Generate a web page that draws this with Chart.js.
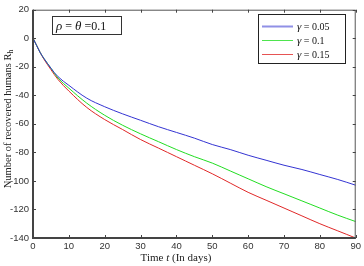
<!DOCTYPE html>
<html>
<head>
<meta charset="utf-8">
<script src="https://cdn.jsdelivr.net/npm/chart.js@4/dist/chart.umd.min.js"></script>
<style>
html, body { margin: 0; padding: 0; background: #fff; }
#wrap { width: 364px; height: 266px; }
</style>
</head>
<body>
<div id="wrap"><canvas id="recoveredChart" width="364" height="266"></canvas></div>
<script>
// Données
const days = [0, 1, 2, 3, 5, 7, 10, 15, 20, 25, 30, 35, 40, 45, 50, 55, 60, 65, 70, 75, 80, 85, 90];
const gamma005 = [0, -5, -10, -14, -21, -27, -33, -42, -48, -53, -57.5, -62, -66, -70, -74.5, -78, -82, -85.5, -89, -92, -95.5, -99, -103];
const gamma01 = [0, -5, -10, -14, -21, -28, -35, -45.5, -54, -61, -67, -72.5, -78, -83, -87.5, -93, -98.5, -104, -109, -114, -119, -124, -128.5];
const gamma015 = [0, -5, -10, -14.5, -22, -29, -37, -48.5, -57, -64, -71, -77, -83, -89, -95, -101.5, -108, -113.5, -119, -124.5, -130, -135, -140];
const gammaLabels = ['0.05', '0.1', '0.15'];
const xTickValues = [0, 10, 20, 30, 40, 50, 60, 70, 80, 90];
const yTickValues = [20, 0, -20, -40, -60, -80, -100, -120, -140];

const lineColors = ['#3434d2', '#22dd22', '#e02828'];
const serif = '"Liberation Serif", "DejaVu Serif", serif';
const sans = '"Liberation Sans", Arial, sans-serif';

function toPoints(values) {
    return values.map((v, i) => ({ x: days[i], y: v }));
}

// Cadre, graduations intérieures, titres, légende et annotation
const matlabFrame = {
    id: 'matlabFrame',
    afterDraw(chart) {
        const ctx = chart.ctx;
        const { left, right, top, bottom } = chart.chartArea;
        const xs = chart.scales.x;
        const ys = chart.scales.y;
        ctx.save();

        // cadre
        ctx.strokeStyle = '#555';
        ctx.lineWidth = 1;
        ctx.strokeRect(left + 0.5, top + 0.5, right - left - 1, bottom - top - 1);
        ctx.strokeStyle = '#444';
        ctx.lineWidth = 2;
        ctx.beginPath();
        ctx.moveTo(left, top);
        ctx.lineTo(left, bottom);
        ctx.lineTo(right, bottom);
        ctx.stroke();

        // graduations vers l'intérieur
        ctx.lineWidth = 1;
        ctx.strokeStyle = '#444';
        ctx.beginPath();
        xTickValues.forEach(v => {
            const px = Math.round(xs.getPixelForValue(v)) + 0.5;
            ctx.moveTo(px, bottom); ctx.lineTo(px, bottom - 3);
            ctx.moveTo(px, top); ctx.lineTo(px, top + 3);
        });
        yTickValues.forEach(v => {
            const py = Math.round(ys.getPixelForValue(v)) + 0.5;
            ctx.moveTo(left, py); ctx.lineTo(left + 3, py);
            ctx.moveTo(right, py); ctx.lineTo(right - 3, py);
        });
        ctx.stroke();

        // titre axe x
        ctx.fillStyle = '#222';
        ctx.textBaseline = 'alphabetic';
        const parts = [
            { t: 'Time ', f: '11px ' + serif },
            { t: 't', f: 'italic 11px ' + serif },
            { t: ' (In days)', f: '11px ' + serif }
        ];
        let total = 0;
        parts.forEach(p => { ctx.font = p.f; total += ctx.measureText(p.t).width; });
        let cx = 176 - total / 2;
        parts.forEach(p => {
            ctx.font = p.f;
            ctx.textAlign = 'left';
            ctx.fillText(p.t, cx, 261);
            cx += ctx.measureText(p.t).width;
        });

        // titre axe y
        ctx.save();
        ctx.translate(11, 119);
        ctx.rotate(-Math.PI / 2);
        ctx.font = '10.5px ' + serif;
        const main = 'Number of recovered humans R';
        const wMain = ctx.measureText(main).width;
        ctx.font = '7.5px ' + serif;
        const wSub = ctx.measureText('h').width;
        const start = -(wMain + wSub) / 2;
        ctx.font = '10.5px ' + serif;
        ctx.textAlign = 'left';
        ctx.fillText(main, start, 0);
        ctx.font = '7.5px ' + serif;
        ctx.fillText('h', start + wMain, 2);
        ctx.restore();

        // annotation
        ctx.fillStyle = '#fff';
        ctx.fillRect(52, 16, 69, 18);
        ctx.strokeStyle = '#333';
        ctx.lineWidth = 1;
        ctx.strokeRect(52.5, 16.5, 69, 18);
        ctx.fillStyle = '#111';
        const ann = [
            { t: 'ρ', f: 'italic 13px ' + serif },
            { t: ' = ', f: '12px ' + serif },
            { t: 'θ', f: 'italic 13px ' + serif },
            { t: ' =0.1', f: '12px ' + serif }
        ];
        let ax = 56;
        ann.forEach(p => {
            ctx.font = p.f;
            ctx.fillText(p.t, ax, 29.5);
            ax += ctx.measureText(p.t).width;
        });

        // légende
        ctx.fillStyle = '#fff';
        ctx.fillRect(258, 14, 87, 49);
        ctx.strokeStyle = '#222';
        ctx.strokeRect(258.5, 14.5, 87, 49);
        const rows = [26, 40, 54];
        chart.data.datasets.forEach((ds, i) => {
            const y = rows[i];
            ctx.strokeStyle = ds.borderColor;
            ctx.lineWidth = i === 0 ? 2 : 1;
            ctx.globalAlpha = i === 0 ? 0.55 : 0.8;
            ctx.beginPath();
            ctx.moveTo(262, y + 0.5);
            ctx.lineTo(293, y + 0.5);
            ctx.stroke();
            ctx.globalAlpha = 1;
            ctx.fillStyle = '#111';
            ctx.font = 'italic 11px ' + serif;
            ctx.fillText('γ', 297, y + 4);
            const gw = ctx.measureText('γ').width;
            ctx.font = '10px ' + serif;
            ctx.fillText(' = ' + gammaLabels[i], 297 + gw, y + 4);
        });

        ctx.restore();
    }
};

function buildDataset(label, values, color) {
    return {
        label: label,
        data: toPoints(values),
        borderColor: color,
        backgroundColor: color,
        borderWidth: 1,
        pointRadius: 0,
        tension: 0.35,
        fill: false
    };
}

new Chart(document.getElementById('recoveredChart'), {
    type: 'line',
    data: {
        datasets: [
            buildDataset('γ = ' + gammaLabels[0], gamma005, lineColors[0]),
            buildDataset('γ = ' + gammaLabels[1], gamma01, lineColors[1]),
            buildDataset('γ = ' + gammaLabels[2], gamma015, lineColors[2])
        ]
    },
    options: {
        responsive: false,
        animation: false,
        devicePixelRatio: 1,
        layout: { padding: { top: 6, right: 6, left: 0, bottom: 0 } },
        plugins: {
            legend: { display: false },
            tooltip: { enabled: false }
        },
        scales: {
            x: {
                type: 'linear',
                min: 0,
                max: 90,
                afterFit: scale => { scale.height = 28; },
                afterBuildTicks: scale => { scale.ticks = xTickValues.map(v => ({ value: v })); },
                grid: { display: false, drawTicks: false },
                border: { display: false },
                ticks: {
                    padding: 3,
                    color: '#333',
                    font: { family: sans, size: 9.5 }
                }
            },
            y: {
                type: 'linear',
                min: -140,
                max: 20,
                afterFit: scale => { scale.width = 33; },
                afterBuildTicks: scale => { scale.ticks = yTickValues.map(v => ({ value: v })); },
                grid: { display: false, drawTicks: false },
                border: { display: false },
                ticks: {
                    padding: 4,
                    color: '#333',
                    font: { family: sans, size: 9.5 }
                }
            }
        }
    },
    plugins: [matlabFrame]
});
</script>
</body>
</html>
